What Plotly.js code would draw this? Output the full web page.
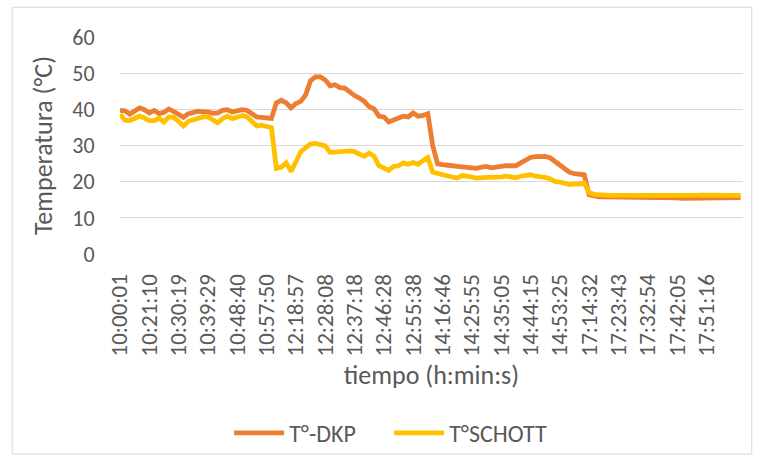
<!DOCTYPE html>
<html>
<head>
<meta charset="utf-8">
<script src="https://cdn.plot.ly/plotly-3.0.1.min.js"></script>
<style>html,body{margin:0;padding:0;background:#fff;}#chart{width:761px;height:467px;}</style>
</head>
<body>
<div id="chart"></div>
<script>
// Tick labels (time, h:min:s) shown on the category axis
const tickLabels = ['10:00:01','10:21:10','10:30:19','10:39:29','10:48:40','10:57:50',
  '12:18:57','12:28:08','12:37:18','12:46:28','12:55:38','14:16:46','14:25:55',
  '14:35:05','14:44:15','14:53:25','17:14:32','17:23:43','17:32:54','17:42:05','17:51:16'];
const pointsPerLabel = 6;

// T°-DKP (°C)
const dkp = [39.7,39.6,38.7,39.7,40.4,39.9,39.0,39.7,38.8,39.2,
  40.1,39.4,38.6,37.8,38.8,39.3,39.5,39.3,39.3,38.9,
  39.0,39.7,39.9,39.3,39.7,39.9,39.7,38.8,37.9,37.8,
  37.6,37.5,41.8,42.5,41.8,40.4,41.6,42.2,44.0,47.9,
  49.0,49.0,48.1,46.5,46.8,46.0,45.9,44.7,43.8,43.1,
  42.2,40.7,40.1,38.1,37.9,36.5,37.2,37.6,38.1,37.9,
  39.0,38.1,38.3,38.8,29.9,24.9,24.7,24.4,24.4,24.2,
  24.1,24.0,23.7,23.7,24.0,24.2,23.8,24.0,24.4,24.4,
  24.4,24.4,25.2,26.1,26.7,26.9,27.0,27.0,26.6,25.5,
  24.4,23.3,22.6,22.2,22.0,21.9,16.4,16.0,15.8,15.8,
  15.8,15.8,15.7,15.7,15.7,15.7,15.6,15.6,15.6,15.6,
  15.5,15.5,15.5,15.5,15.5,15.4,15.4,15.4,15.4,15.4,
  15.4,15.5,15.5,15.5,15.6,15.6,15.6,15.6];

// T°SCHOTT (°C)
const schott = [38.6,37.0,36.9,37.6,38.1,37.6,36.9,36.9,37.6,36.5,
  37.9,37.8,36.5,35.4,36.7,37.2,37.5,37.9,37.9,37.2,
  36.3,37.4,38.1,37.4,37.9,38.3,37.9,36.7,35.4,35.6,
  35.4,34.9,23.7,24.0,25.2,22.8,25.5,28.3,29.4,30.4,
  30.6,30.1,29.9,28.1,28.3,28.3,28.4,28.5,28.3,27.6,
  27.0,27.9,27.0,24.4,23.7,23.1,24.2,24.4,25.2,24.8,
  25.3,24.8,25.8,26.7,22.6,22.2,21.9,21.5,21.3,21.0,
  21.7,21.5,21.1,21.0,21.1,21.1,21.1,21.0,21.3,21.5,
  21.2,21.1,21.5,21.7,21.9,21.5,21.4,21.2,20.8,20.1,
  19.9,19.4,19.2,19.4,19.3,19.6,17.0,16.5,16.3,16.3,
  16.2,16.2,16.2,16.1,16.1,16.1,16.0,16.0,16.0,16.0,
  16.0,16.0,15.9,15.9,15.9,16.0,16.0,16.1,16.2,16.3,
  16.3,16.4,16.4,16.3,16.3,16.2,16.2,16.2];

const seriesNames = ['T°-DKP', 'T°SCHOTT'];

const idx = dkp.map((_, i) => i);
const tickvals = tickLabels.map((_, j) => j * pointsPerLabel);

const FONT = 'Carlito, Calibri, Lato, sans-serif';
const GRAY = '#595959';

const traces = [
  {x: idx, y: dkp, name: seriesNames[0], type: 'scatter', mode: 'lines',
   line: {color: '#ED7D31', width: 4.8}},
  {x: idx, y: schott, name: seriesNames[1], type: 'scatter', mode: 'lines',
   line: {color: '#FFC000', width: 4.8}}
];

const layout = {
  width: 761, height: 467,
  margin: {l: 120, r: 18, t: 37, b: 211},
  paper_bgcolor: '#fff', plot_bgcolor: '#fff',
  font: {family: FONT, color: GRAY, size: 23},
  showlegend: true,
  legend: {orientation: 'h', x: 0.432, xanchor: 'center', y: -0.826, yanchor: 'middle',
           bgcolor: 'rgba(0,0,0,0)', entrywidth: 95,
           font: {family: FONT, size: 24, color: GRAY}, itemwidth: 50, tracegroupgap: 0},
  xaxis: {
    range: [0, dkp.length - 1 + 0.5],
    tickvals: tickvals, ticktext: tickLabels, tickangle: -90,
    ticks: 'outside', ticklen: 10, tickcolor: 'rgba(0,0,0,0)',
    showgrid: false, zeroline: false,
    showline: false,
    tickfont: {family: FONT, size: 23, color: GRAY},
    title: {text: 'tiempo (h:min:s)', font: {family: FONT, size: 26, color: GRAY}, standoff: 10}
  },
  yaxis: {
    range: [0, 60], dtick: 10, tick0: 0,
    showgrid: true, gridcolor: '#d9d9d9', gridwidth: 1.3,
    zeroline: false, showline: false,
    ticks: 'outside', ticklen: 20, tickcolor: 'rgba(0,0,0,0)',
    tickfont: {family: FONT, size: 22, color: GRAY},
    title: {text: 'Temperatura (°C)', font: {family: FONT, size: 26, color: GRAY}, standoff: 12}
  },
  shapes: [
    {type: 'rect', xref: 'paper', yref: 'paper', x0: -0.173, x1: 1.014, y0: -0.922, y1: 1.137,
     line: {color: '#d9d9d9', width: 1}, fillcolor: 'rgba(0,0,0,0)', layer: 'below'}
  ]
};

Plotly.newPlot('chart', traces, layout, {staticPlot: true, displayModeBar: false});
</script>
</body>
</html>
